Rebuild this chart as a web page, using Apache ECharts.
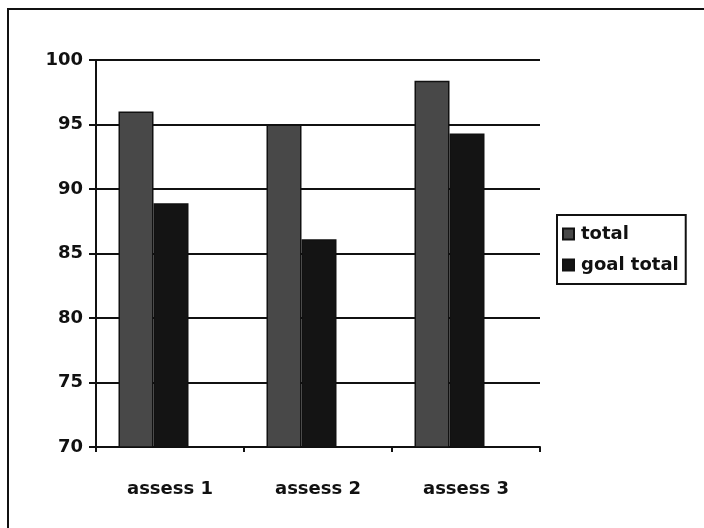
<!DOCTYPE html>
<html>
<head>
<meta charset="utf-8">
<script src="https://cdn.jsdelivr.net/npm/echarts@6/dist/echarts.min.js"></script>
<style>
  html, body { margin: 0; padding: 0; background: #fff; }
  #chart { width: 704px; height: 528px; }
</style>
</head>
<body>
<div id="chart"></div>
<script>
// Assessment scores per round
const categories = ['assess 1', 'assess 2', 'assess 3'];
const totalValues = [96.0, 95.0, 98.4];
const goalTotalValues = [88.9, 86.1, 94.3];
const yTicks = [70, 75, 80, 85, 90, 95, 100];

const FONT = '"DejaVu Sans", "Liberation Sans", Arial, sans-serif';

const chart = echarts.init(document.getElementById('chart'), null, { renderer: 'canvas' });

chart.setOption({
  backgroundColor: '#ffffff',
  animation: false,
  graphic: [
    // frame around the chart area (top and left edges)
    { type: 'polyline', shape: { points: [[8, 528], [8, 9], [704, 9]] },
      style: { stroke: '#111', lineWidth: 2, fill: null } }
  ],
  legend: {
    orient: 'vertical',
    left: 557,
    top: 215,
    padding: [10, 7, 10, 5],
    itemWidth: 11,
    itemHeight: 11,
    itemGap: 13,
    borderColor: '#111',
    borderWidth: 2,
    data: ['total', 'goal total'],
    textStyle: { fontFamily: FONT, fontWeight: 'bold', fontSize: 18, color: '#111', padding: [0, 0, 0, 2] },
    icon: 'rect'
  },
  grid: { left: 96, top: 60, right: 164, bottom: 81, containLabel: false },
  xAxis: {
    type: 'category',
    data: categories,
    boundaryGap: true,
    axisLine: { lineStyle: { color: '#111', width: 2 } },
    axisTick: { show: true, length: 5, lineStyle: { color: '#111', width: 2 } },
    axisLabel: { fontFamily: FONT, fontWeight: 'bold', fontSize: 18, color: '#111', margin: 33 }
  },
  yAxis: {
    type: 'value',
    min: yTicks[0],
    max: yTicks[yTicks.length - 1],
    interval: yTicks[1] - yTicks[0],
    axisLine: { show: true, lineStyle: { color: '#111', width: 2 } },
    axisTick: { show: true, length: 7, lineStyle: { color: '#111', width: 2 } },
    axisLabel: { fontFamily: FONT, fontWeight: 'bold', fontSize: 18, color: '#111', margin: 13 },
    splitLine: { show: true, lineStyle: { color: '#111', width: 2 } }
  },
  series: [
    {
      name: 'total', type: 'bar', data: totalValues, barWidth: 35, barGap: '0%',
      itemStyle: { color: '#484848', borderColor: '#111', borderWidth: 1.5 }
    },
    {
      name: 'goal total', type: 'bar', data: goalTotalValues, barWidth: 35, barGap: '0%',
      itemStyle: { color: '#141414', borderColor: '#111', borderWidth: 1.5 }
    },
    {
      // empty slot keeping the bar pair left of the category centre
      name: 'spacer', type: 'bar', data: [null, null, null], barWidth: 33, barGap: '0%',
      itemStyle: { color: 'transparent' }
    }
  ]
});
</script>
</body>
</html>
